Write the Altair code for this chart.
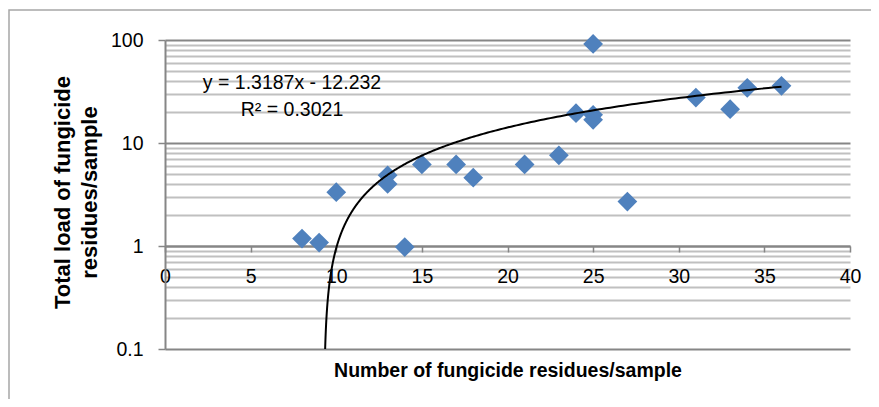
import altair as alt
import pandas as pd

# ---- data ----
residues = [8, 9, 10, 13, 13, 14, 15, 17, 18, 21, 23, 24, 25, 25, 25, 27, 31, 33, 34, 36]
load = [1.18, 1.08, 3.33, 4.86, 4.0, 0.976, 6.2, 6.2, 4.6, 6.2, 7.6, 19.5, 91.5,
        18.8, 16.8, 2.7, 27.6, 21.3, 34.3, 35.9]

slope = 1.3187
intercept = -12.232
r_squared = 0.3021
trend_x_max = 36

x_ticks = [0, 5, 10, 15, 20, 25, 30, 35, 40]
y_major = [0.1, 1, 10, 100]
y_grid = [0.1, 0.2, 0.3, 0.4, 0.5, 0.6, 0.7, 0.8, 0.9,
          1, 2, 3, 4, 5, 6, 7, 8, 9,
          10, 20, 30, 40, 50, 60, 70, 80, 90, 100]

x_title = "Number of fungicide residues/sample"
y_title = ["Total load of fungicide", "residues/sample"]
eq_lines = [f"y = {slope}x - {abs(intercept)}", f"R\u00b2 = {r_squared}"]

# ---- style ----
W, H = 685, 309
FONT = "Liberation Sans"
FS = 19.5
GRAY = "#868686"
LIGHT = "#c0c0c0"
BLUE = "#4F81BD"

df = pd.DataFrame({"residues": residues, "load": load})

xscale = alt.Scale(domain=[0, 40], nice=False, zero=False)
yscale = alt.Scale(type="log", domain=[0.1, 100], nice=False)

major_test = "indexof([0.1, 1, 10, 100], datum.value) >= 0"

xaxis = alt.Axis(
    values=x_ticks, grid=False, offset=-103,
    domainColor=GRAY, domainWidth=2, tickColor=GRAY, tickSize=6, tickWidth=1.5,
    labelFont=FONT, labelFontSize=FS, labelColor="#000000", labelPadding=15,
    labelFlush=False, labelOverlap=False,
    title=x_title, titleFont=FONT, titleFontSize=FS, titleFontWeight="bold",
    titleColor="#000000", titleX=W / 2, titleY=130, titleAlign="center",
    titleBaseline="alphabetic",
)

yaxis = alt.Axis(
    values=y_grid, format="~g",
    labelExpr=f"({major_test}) ? datum.label : ''",
    grid=True,
    gridColor={"condition": {"test": major_test, "value": GRAY}, "value": LIGHT},
    gridWidth=1.8,
    domainColor=GRAY, domainWidth=2,
    tickColor={"condition": {"test": major_test, "value": GRAY}, "value": "transparent"},
    tickSize=7, tickWidth=1.5,
    labelFont=FONT, labelFontSize=FS, labelColor="#000000", labelPadding=15,
    labelBaseline="middle", labelFlush=False, labelOverlap=False,
    title=y_title, titleFont=FONT, titleFontSize=22, titleFontWeight="bold",
    titleColor="#000000", titleAngle=-90, titleX=-103, titleY=152,
    titleAlign="center", titleBaseline="middle", titleLineHeight=27,
)

frame = alt.Chart(pd.DataFrame({"a": [0]})).mark_rect(
    fillOpacity=0, stroke="#a6a6a6", strokeWidth=1.5
).encode(
    x=alt.value(-156), x2=alt.value(900), y=alt.value(-30), y2=alt.value(600)
)

points = alt.Chart(df).mark_point(
    shape="diamond", filled=True, size=390, color=BLUE, opacity=1
).encode(
    x=alt.X("residues:Q", scale=xscale, axis=xaxis),
    y=alt.Y("load:Q", scale=yscale, axis=yaxis),
)

N = 400
ymax = slope * trend_x_max + intercept
trend = alt.Chart(alt.sequence(0, N + 1, as_="i")).transform_calculate(
    load=f"0.1 * pow({ymax} / 0.1, datum.i / {N})"
).transform_calculate(
    residues=f"(datum.load - ({intercept})) / {slope}"
).mark_line(color="#000000", strokeWidth=2).encode(
    x=alt.X("residues:Q", scale=xscale),
    y=alt.Y("load:Q", scale=yscale),
    order="i:Q",
)

eq_layers = []
for line, ypix in zip(eq_lines, [43, 70]):
    eq_layers.append(
        alt.Chart(pd.DataFrame({"line": [line]})).mark_text(
            font=FONT, fontSize=FS, color="#000000", align="center", baseline="middle"
        ).encode(x=alt.value(127), y=alt.value(ypix), text="line:N")
    )

chart = alt.layer(frame, points, trend, *eq_layers).properties(
    width=W, height=H,
    autosize=alt.AutoSizeParams(type="none"),
    padding={"left": 157, "top": 32, "right": 21, "bottom": 50},
).configure_view(stroke="transparent")

chart.save("out.html", embed_options={"renderer": "svg", "actions": False})
